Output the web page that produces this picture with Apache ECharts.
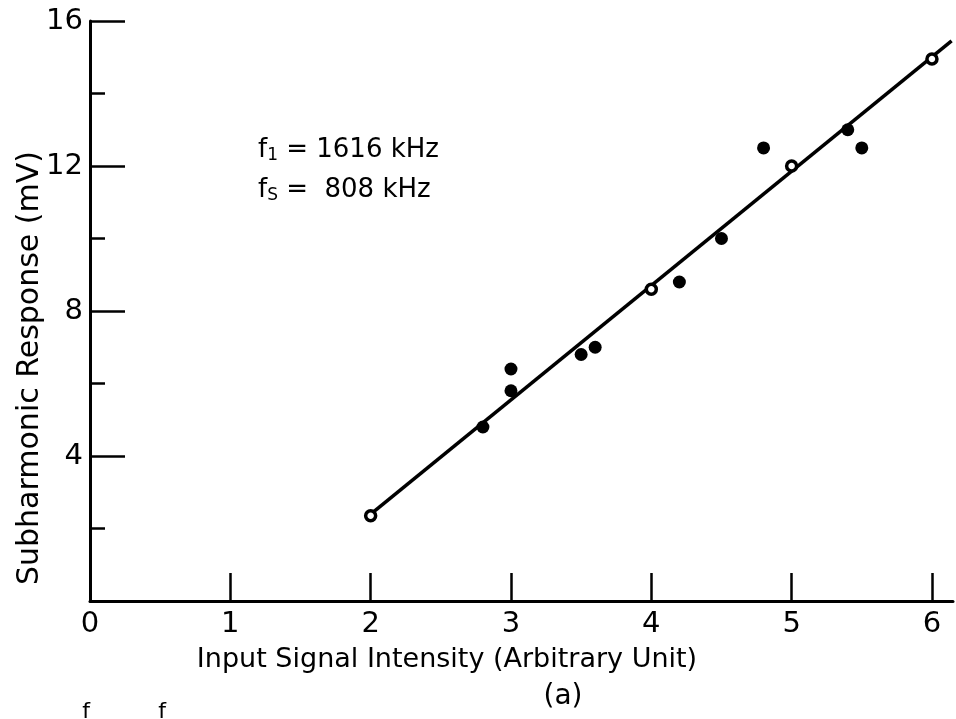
<!DOCTYPE html>
<html>
<head>
<meta charset="utf-8">
<script src="https://cdn.jsdelivr.net/npm/echarts@6/dist/echarts.min.js"></script>
<style>html,body{margin:0;padding:0;background:#fff}#c{width:956px;height:719px}</style>
</head>
<body>
<div id="c"></div>
<script>
// Data
const filledPoints = [[2.8,4.8],[3.0,6.4],[3.0,5.8],[3.5,6.8],[3.6,7.0],[4.2,8.8],[4.5,10.0],[4.8,12.5],[5.4,13.0],[5.5,12.5]];
const openPoints = [[2.0,2.35],[4.0,8.6],[5.0,12.0],[6.0,14.95]];
const fitLine = [[1.97,2.3],[6.14,15.45]];
const xTicks = [0,1,2,3,4,5,6];
const yTicks = [4,8,12,16];

const FONT = 'DejaVu Sans';
const chart = echarts.init(document.getElementById('c'));
chart.setOption({
  backgroundColor:'#fff',
  animation:false,
  grid:{left:90,right:3,top:21,bottom:118},
  xAxis:{
    type:'value',min:0,max:6.15,interval:1,
    axisLine:{lineStyle:{color:'#000',width:3}},
    axisTick:{inside:true,length:28,lineStyle:{color:'#000',width:2.5},customValues:xTicks.slice(1)},
    axisLabel:{color:'#000',fontFamily:FONT,fontSize:29,margin:9,customValues:xTicks},
    splitLine:{show:false}
  },
  yAxis:{
    type:'value',min:0,max:16,interval:4,
    axisLine:{onZero:false,lineStyle:{color:'#000',width:3}},
    axisTick:{inside:true,length:35,lineStyle:{color:'#000',width:2.5},customValues:yTicks},
    minorTick:{show:true,splitNumber:2,length:15,lineStyle:{color:'#000',width:2.5}},
    axisLabel:{color:'#000',fontFamily:FONT,fontSize:29,margin:7,customValues:yTicks},
    splitLine:{show:false}
  },
  series:[
    {type:'line',data:fitLine,symbol:'none',lineStyle:{color:'#000',width:3.5},z:2},
    {type:'scatter',data:filledPoints,symbol:'circle',symbolSize:13,itemStyle:{color:'#000',opacity:1},z:3},
    {type:'scatter',data:openPoints,symbol:'circle',symbolSize:10,itemStyle:{color:'#fff',borderColor:'#000',borderWidth:3.5,opacity:1},z:3}
  ],
  graphic:[
    {type:'text',x:447,y:660,style:{text:'Input Signal Intensity (Arbitrary Unit)',fontFamily:FONT,fontSize:27,fill:'#000',align:'center',verticalAlign:'middle'}},
    {type:'text',x:563,y:697,style:{text:'(a)',fontFamily:FONT,fontSize:28,fill:'#000',align:'center',verticalAlign:'middle'}},
    {type:'text',x:30,y:368,rotation:Math.PI/2,style:{text:'Subharmonic Response (mV)',fontFamily:FONT,fontSize:30,fill:'#000',align:'center',verticalAlign:'middle'}},
    {type:'text',x:258,y:150,style:{text:'{t|f}{s|1}{t| = 1616 kHz}',verticalAlign:'middle',rich:{t:{fontFamily:FONT,fontSize:26,fill:'#000'},s:{fontFamily:FONT,fontSize:17,fill:'#000',padding:[12,0,0,0]}}}},
    {type:'text',x:258,y:190,style:{text:'{t|f}{s|S}{t| =  808 kHz}',verticalAlign:'middle',rich:{t:{fontFamily:FONT,fontSize:26,fill:'#000'},s:{fontFamily:FONT,fontSize:17,fill:'#000',padding:[12,0,0,0]}}}},
    {type:'text',x:86,y:712,style:{text:'f',fontFamily:FONT,fontSize:22,fill:'#000',align:'center',verticalAlign:'middle'}},
    {type:'text',x:162,y:712,style:{text:'f',fontFamily:FONT,fontSize:22,fill:'#000',align:'center',verticalAlign:'middle'}}
  ]
});
</script>
</body>
</html>
